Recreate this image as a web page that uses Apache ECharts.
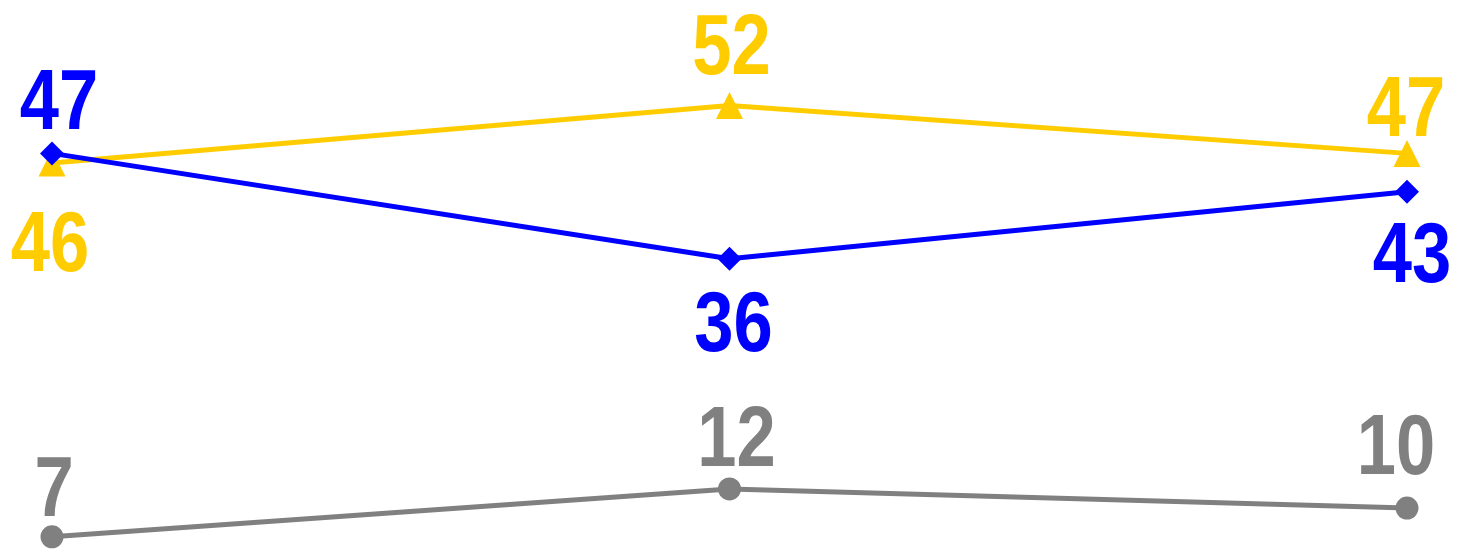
<!DOCTYPE html>
<html>
<head>
<meta charset="utf-8">
<script src="https://cdn.jsdelivr.net/npm/echarts@6/dist/echarts.min.js"></script>
<style>html,body{margin:0;padding:0;background:#fff;}#c{width:1460px;height:556px;}</style>
</head>
<body>
<div id="c"></div>
<script>
const categories = ['A', 'B', 'C'];
const grayValues = [7, 12, 10];
const yellowValues = [46, 52, 47];
const blueValues = [47, 36, 43];

// label offsets per point [dx, dy] relative to the point
const grayOffsets = [[2, -45], [7, -47], [-11, -58]];
const yellowOffsets = [[-2, 84], [2, -55], [-1, -41]];
const blueOffsets = [[7, -48], [4, 68], [5, 67]];

const FONT = 'bold 86px "Liberation Sans", Arial, sans-serif';
const NARROW = 0.82;

function lineSeries(name, values, color, symbol, size) {
  return {
    name: name,
    type: 'line',
    data: values,
    symbol: symbol,
    symbolSize: size,
    showAllSymbol: true,
    lineStyle: { color: color, width: 5 },
    itemStyle: { color: color },
    emphasis: { disabled: true },
    animation: false,
    z: 2
  };
}

function labelSeries(name, values, offsets, color) {
  return {
    name: name + '-labels',
    type: 'custom',
    coordinateSystem: 'cartesian2d',
    data: values.map((v, i) => [i, v]),
    silent: true,
    animation: false,
    z: 5,
    renderItem: function (params, api) {
      const i = api.value(0);
      const pt = api.coord([i, api.value(1)]);
      const off = offsets[params.dataIndex];
      return {
        type: 'text',
        x: pt[0] + off[0],
        y: pt[1] + off[1],
        scaleX: NARROW,
        scaleY: 1,
        style: {
          text: String(api.value(1)),
          x: 0,
          y: 0,
          fill: color,
          font: FONT,
          align: 'center',
          verticalAlign: 'middle'
        }
      };
    }
  };
}

const chart = echarts.init(document.getElementById('c'), null, { renderer: 'canvas' });
chart.setOption({
  animation: false,
  backgroundColor: '#ffffff',
  grid: { left: 52, right: 53, top: 0, bottom: 0 },
  xAxis: {
    type: 'category',
    data: categories,
    boundaryGap: false,
    show: false
  },
  yAxis: {
    type: 'value',
    min: 5,
    max: 63,
    show: false
  },
  series: [
    lineSeries('gray', grayValues, '#808080', 'circle', 23),
    lineSeries('yellow', yellowValues, '#FFCC00', 'triangle', 27),
    lineSeries('blue', blueValues, '#0000FF', 'diamond', 24),
    labelSeries('gray', grayValues, grayOffsets, '#808080'),
    labelSeries('yellow', yellowValues, yellowOffsets, '#FFCC00'),
    labelSeries('blue', blueValues, blueOffsets, '#0000FF')
  ]
});
</script>
</body>
</html>
